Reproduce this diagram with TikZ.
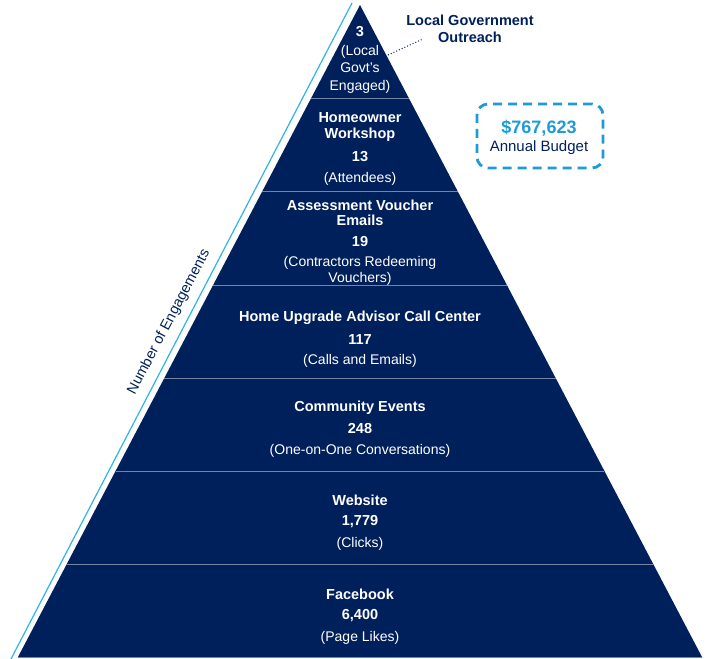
\documentclass[tikz,border=0pt]{standalone}
\usepackage{fontspec}
\setmainfont{Liberation Sans}
\usepackage{tikz}
\usetikzlibrary{calc}

\definecolor{navy}{RGB}{0,32,91}
\definecolor{skyline}{RGB}{47,180,234}
\definecolor{budgetblue}{RGB}{30,155,215}

\tikzset{
  tiertitle/.style={text=white, font=\fontsize{14.5}{15.5}\selectfont\bfseries, align=center, inner sep=0pt, yshift=-2pt},
  tiernum/.style={text=white, font=\fontsize{14.5}{15.5}\selectfont\bfseries, inner sep=0pt, yshift=-2pt},
  tiernote/.style={text=white, font=\fontsize{14}{15.5}\selectfont, align=center, inner sep=0pt, yshift=-2pt},
  divider/.style={draw=navy!55!white, line width=0.6pt},
}

\begin{document}
\begin{tikzpicture}[x=1pt,y=-1pt]
\useasboundingbox (0,0) rectangle (710,659);
% pyramid body
\fill[navy] (360,5) -- (702,657) -- (18,657) -- cycle;
\foreach \y in {98,191,285,378,471,564}
  \draw[divider] ({360-(\y-5)*0.5245},\y) -- ({360+(\y-5)*0.5245},\y);
\draw[divider] (18,657.5) -- (702,657.5);
% axis line along the left side
\draw[skyline, line width=1.2pt] (352,3) -- (11,659);
\node[text=navy, font=\fontsize{14.5}{16}\selectfont, rotate=62.3, inner sep=0pt] (axis) at (169,322) {Number of Engagements};

% top: local government
\node[tiernum] (lg num) at (360,30) {3};
\node[tiernote, font=\fontsize{14}{17.5}\selectfont] (lg note) at (360,67) {(Local\\Govt's\\Engaged)};
\node[text=navy, font=\fontsize{14.5}{17}\selectfont\bfseries, align=center, inner sep=0pt] (lg label) at (470,29) {Local Government\\Outreach};
\coordinate (lg tip) at (388,55);
\draw[navy, dotted, line width=1pt] (lg tip) -- (423,39);

% homeowner workshop
\node[tiertitle] (hw title) at (360,125) {Homeowner\\Workshop};
\node[tiernum] (hw num) at (360,155) {13};
\node[tiernote] (hw note) at (360,177) {(Attendees)};

% assessment vouchers
\node[tiertitle] (av title) at (360,211) {Assessment Voucher\\Emails};
\node[tiernum] (av num) at (360,240) {19};
\node[tiernote] (av note) at (360,269) {(Contractors Redeeming\\Vouchers)};

% call center
\node[tiertitle] (cc title) at (360,316) {Home Upgrade Advisor Call Center};
\node[tiernum] (cc num) at (360,338) {117};
\node[tiernote] (cc note) at (360,359) {(Calls and Emails)};

% community events
\node[tiertitle] (ce title) at (360,406) {Community Events};
\node[tiernum] (ce num) at (360,427) {248};
\node[tiernote] (ce note) at (360,449) {(One-on-One Conversations)};

% website
\node[tiertitle] (ws title) at (360,498) {Website};
\node[tiernum] (ws num) at (360,520) {1,779};
\node[tiernote] (ws note) at (360,542) {(Clicks)};

% facebook
\node[tiertitle] (fb title) at (360,592) {Facebook};
\node[tiernum] (fb num) at (360,614) {6,400};
\node[tiernote] (fb note) at (360,636) {(Page Likes)};

% budget box
\node[draw=budgetblue, dash pattern=on 9pt off 6pt, line width=2.8pt, rounded corners=11pt,
      minimum width=126pt, minimum height=64pt] (budget) at (540,136) {};
\node[text=budgetblue, font=\fontsize{18}{20}\selectfont\bfseries, inner sep=0pt] (budget sum) at (539,128) {\$767,623};
\node[text=navy, font=\fontsize{15}{17}\selectfont, inner sep=0pt] (budget note) at (539,148) {Annual Budget};
\end{tikzpicture}
\end{document}
